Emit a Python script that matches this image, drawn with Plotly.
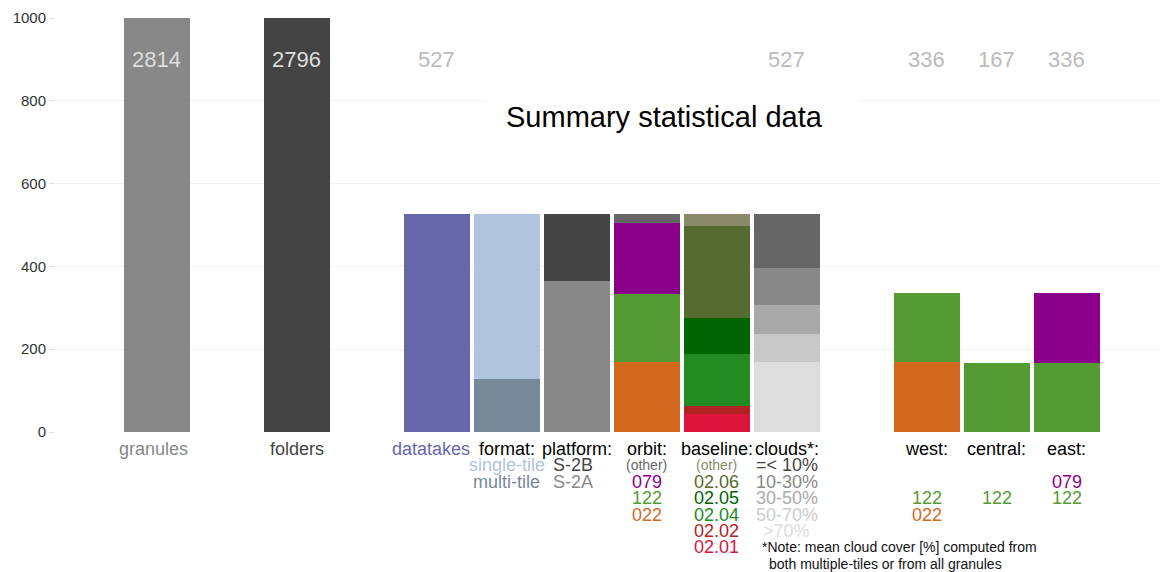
import plotly.graph_objects as go

# ---------------- data ----------------
categories = ["granules", "folders", "datatakes", "format:", "platform:", "orbit:",
              "baseline:", "clouds*:", "west:", "central:", "east:"]
cat_colors = ["#888888", "#444444", "#6667AB", "#000000", "#000000", "#000000",
              "#000000", "#000000", "#000000", "#000000", "#000000"]
totals = [2814, 2796, 527, None, None, None, None, 527, 336, 167, 336]

# single bars
granules = 2814
folders = 2796
datatakes = 527

# stacked segments (bottom -> top)
format_labels = ["multi-tile", "single-tile"]
format_values = [128, 399]
format_colors = ["#778899", "#B0C4DE"]

platform_labels = ["S-2A", "S-2B"]
platform_values = [365, 162]
platform_colors = ["#888888", "#444444"]

orbit_labels = ["022", "122", "079", "(other)"]
orbit_values = [168, 166, 170, 23]
orbit_colors = ["#D2691E", "#559B33", "#8B008B", "#666666"]

baseline_labels = ["02.01", "02.02", "02.04", "02.05", "02.06", "(other)"]
baseline_values = [44, 19, 126, 87, 222, 29]
baseline_colors = ["#DC143C", "#B22222", "#228B22", "#006400", "#556B2F", "#8A8A6A"]

clouds_labels = [">70%", "50-70%", "30-50%", "10-30%", "=< 10%"]
clouds_values = [168, 68, 70, 90, 131]
clouds_colors = ["#DCDCDC", "#C8C8C8", "#A9A9A9", "#888888", "#666666"]
clouds_text_colors = ["#DDDDDD", "#CCCCCC", "#AAAAAA", "#888888", "#444444"]

west_labels = ["022", "122"]
west_values = [168, 168]
west_colors = ["#D2691E", "#559B33"]

central_labels = ["122"]
central_values = [167]
central_colors = ["#559B33"]

east_labels = ["122", "079"]
east_values = [167, 169]
east_colors = ["#559B33", "#8B008B"]

note_lines = ["*Note: mean cloud cover [%] computed from",
              "both multiple-tiles or from all granules"]

# ---------------- layout helpers ----------------
slots = [0, 2, 4, 5, 6, 7, 8, 9, 11, 12, 13]
label_shift = [-3, 0, -6, 0, 0, 0, 0, 0, 0, 0, 0]
pos = dict(zip(categories, slots))
BW = 0.943
FONT = "Liberation Sans, Arial, sans-serif"

fig = go.Figure()


def add_stack(cat, values, colors, names):
    for v, c, n in zip(values, colors, names):
        fig.add_trace(go.Bar(x=[pos[cat]], y=[v], width=BW, name=n,
                             marker=dict(color=c, line=dict(width=0)),
                             showlegend=False))


add_stack("granules", [granules], ["#888888"], ["granules"])
add_stack("folders", [folders], ["#444444"], ["folders"])
add_stack("datatakes", [datatakes], ["#6667AB"], ["datatakes"])
add_stack("format:", format_values, format_colors, format_labels)
add_stack("platform:", platform_values, platform_colors, platform_labels)
add_stack("orbit:", orbit_values, orbit_colors, orbit_labels)
add_stack("baseline:", baseline_values, baseline_colors, baseline_labels)
add_stack("clouds*:", clouds_values, clouds_colors, clouds_labels)
add_stack("west:", west_values, west_colors, west_labels)
add_stack("central:", central_values, central_colors, central_labels)
add_stack("east:", east_values, east_colors, east_labels)

ann = []
# totals at top
for cat, t in zip(categories, totals):
    if t is None:
        continue
    col = "#DDDDDD" if cat in ("granules", "folders") else "#BBBBBB"
    ann.append(dict(x=pos[cat], y=899, text=str(t), showarrow=False,
                    font=dict(size=22, color=col, family=FONT)))

ROW0 = 17
ROWH = 16.4


def row_label(cat, row, text, color, size=18, xshift=0):
    ann.append(dict(x=pos[cat], y=0, yanchor="middle", xanchor="center",
                    yshift=-(ROW0 + ROWH * row), xshift=xshift, text=text,
                    showarrow=False, font=dict(size=size, color=color, family=FONT)))


# category labels
for cat, col, sh in zip(categories, cat_colors, label_shift):
    row_label(cat, 0, cat, col, xshift=sh)

# format / platform
row_label("format:", 1, format_labels[1], format_colors[1])
row_label("format:", 2, format_labels[0], format_colors[0])
row_label("platform:", 1, platform_labels[1], "#444444", xshift=-4)
row_label("platform:", 2, platform_labels[0], "#888888", xshift=-4)

# orbit rows top -> bottom
for i, (lab, col) in enumerate(zip(orbit_labels[::-1], orbit_colors[::-1])):
    row_label("orbit:", 1 + i, lab, col, size=14 if lab == "(other)" else 18)

# baseline rows top -> bottom
for i, (lab, col) in enumerate(zip(baseline_labels[::-1], baseline_colors[::-1])):
    row_label("baseline:", 1 + i, lab, col, size=14 if lab == "(other)" else 18)

# clouds rows top -> bottom
for i, (lab, col) in enumerate(zip(clouds_labels[::-1], clouds_text_colors[::-1])):
    row_label("clouds*:", 1 + i, lab, col)

# regions: rows aligned with orbit rows
orbit_row = {lab: 1 + i for i, lab in enumerate(orbit_labels[::-1])}
for cat, labs, cols in [("west:", west_labels, west_colors),
                        ("central:", central_labels, central_colors),
                        ("east:", east_labels, east_colors)]:
    for lab, col in zip(labs, cols):
        row_label(cat, orbit_row[lab], lab, col)

# note
for i, line in enumerate(note_lines):
    ann.append(dict(x=pos["clouds*:"] - 0.39, y=0, xanchor="left", yanchor="middle",
                    xshift=7 * i,
                    yshift=-(ROW0 + ROWH * (6 + i)), text=line,
                    showarrow=False, font=dict(size=14, color="#111111", family=FONT)))

# title
ann.append(dict(x=7.257, y=761, text="Summary statistical data", showarrow=False,
                font=dict(size=29, color="#000000", family=FONT)))

fig.update_layout(
    width=1162, height=572,
    barmode="stack",
    bargap=0,
    paper_bgcolor="white", plot_bgcolor="white",
    margin=dict(l=55, r=2, t=18, b=140),
    font=dict(family=FONT),
    xaxis=dict(range=[-1.457, 14.329], showticklabels=False, showgrid=False,
               zeroline=False, showline=False, ticks=""),
    yaxis=dict(range=[0, 1000], tickvals=[0, 200, 400, 600, 800, 1000],
               showgrid=True, gridcolor="#F2F2F2", gridwidth=1, zeroline=False,
               showline=False, ticks="outside", ticklen=5, tickcolor="#DDDDDD",
               tickfont=dict(size=15, color="#333333", family=FONT)),
    shapes=[dict(type="rect", xref="x", yref="y", x0=4.714, x1=10.014, y0=700, y1=880,
                 fillcolor="white", line=dict(width=0), layer="above")],
    annotations=ann,
    hovermode="closest",
)

fig.write_html("out.html", config={"displayModeBar": False},
               post_script="document.body.style.margin='0px';document.body.style.overflow='hidden';")
